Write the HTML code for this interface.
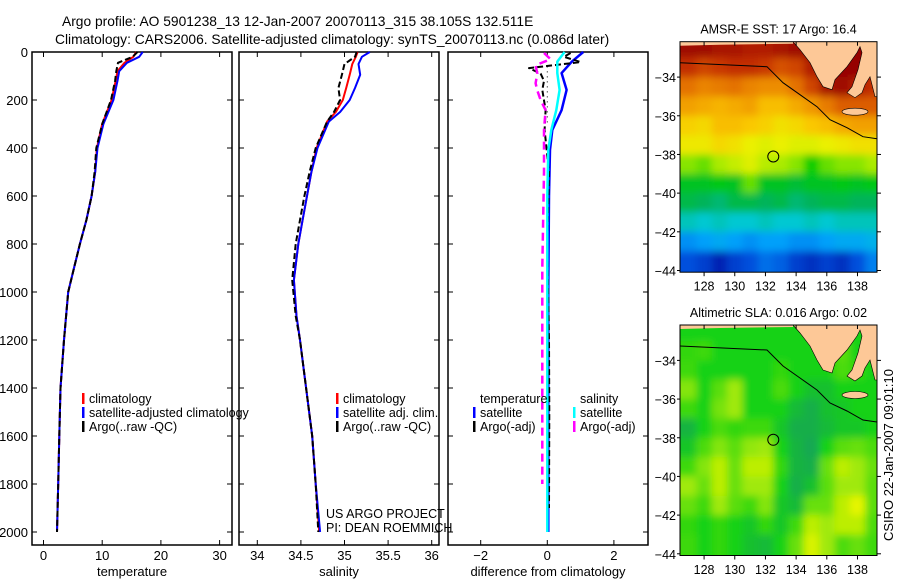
<!DOCTYPE html>
<html><head><meta charset="utf-8"><style>
body{margin:0;background:#fff;}
svg{display:block;font-family:"Liberation Sans",Arial,sans-serif;}
</style></head><body>
<svg id="c" width="900" height="580" viewBox="0 0 900 580">
<defs><filter id="blur" x="-5%" y="-5%" width="110%" height="110%"><feGaussianBlur stdDeviation="4"/></filter></defs>
</svg>
<script>
const tempDepth=[0,20,45,80,120,200,300,400,500,600,700,800,900,1000,1200,1400,1600,1800,2000];
const tempClim=[15.8,15.3,13.8,12.6,12.3,11.6,10.0,9.1,8.8,8.2,7.3,6.2,5.2,4.2,3.5,2.9,2.7,2.5,2.3];
const tempSat=[16.9,16.3,14.2,12.9,12.6,11.9,10.2,9.2,8.8,8.2,7.3,6.2,5.2,4.2,3.5,2.9,2.7,2.5,2.3];
const tempArgo=[16.0,15.2,12.7,12.4,12.2,11.5,10.0,9.0,8.7,8.2,7.3,6.2,5.2,4.2,3.5,2.9,2.7,2.5,2.3];
const salDepth=[0,20,50,95,150,200,250,290,400,500,600,700,800,950,1100,1200,1400,1600,1800,2000];
const salClim=[35.15,35.13,35.09,35.06,35.02,34.98,34.90,34.80,34.68,34.62,34.57,34.52,34.47,34.42,34.45,34.49,34.56,34.63,34.67,34.71];
const salSat=[35.29,35.20,35.16,35.18,35.12,35.06,34.95,34.82,34.69,34.62,34.57,34.52,34.47,34.42,34.45,34.49,34.56,34.63,34.67,34.72];
const salArgo=[35.14,35.12,35.0,34.97,34.93,34.95,34.88,34.80,34.67,34.60,34.54,34.49,34.44,34.40,34.44,34.49,34.56,34.63,34.67,34.70];
const diffSatDepth=[0,40,88,158,242,325,408,600,1000,2000];
const diffSatT=[1.08,0.74,0.43,0.58,0.43,0.15,0.08,0.05,0.03,0.03];
const diffSatS=[0.52,0.3,0.3,0.37,0.27,0.12,0.03,0.0,0.0,0.0];
const diffArgoTDepth=[4,20,42,67,90,120,158,242,325,500,800,1200,1500,1900];
const diffArgoT=[0.7,0.5,1.0,-0.55,-0.2,-0.1,-0.15,-0.05,-0.08,0.05,0.0,0.05,0.06,0.05];
const diffArgoSDepth=[4,30,55,90,130,160,200,242,325,500,900,1200,1800];
const diffArgoS=[-0.1,0.1,-0.35,-0.3,-0.35,-0.3,-0.2,-0.05,-0.1,-0.1,-0.15,-0.15,-0.15];
const depthTicks=[0,200,400,600,800,1000,1200,1400,1600,1800,2000];
const tempTicks=[0,10,20,30];
const salTicks=[34,34.5,35,35.5,36];
const diffTicks=[-2,0,2];
const mapLons=[127,128,129,130,131,132,133,134,135,136,137,138,139];
const mapLats=[-32.5,-33.5,-34.5,-35.5,-36.5,-37.5,-38.5,-39.5,-40.5,-41.5,-42.5,-43.5];
const sstGrid=[
[19.4,19.4,19.3,19.3,19.2,19.2,19.3,19.4,19.5,19.5,19.5,19.5,19.5],
[19.0,18.8,18.9,19.0,19.0,18.9,18.7,18.8,19.2,19.5,19.5,19.5,19.4],
[18.4,18.2,18.3,18.4,18.2,18.1,18.1,18.4,18.8,19.3,19.4,19.2,19.0],
[17.9,17.8,17.7,17.8,17.9,17.6,17.6,17.8,18.0,18.3,18.6,18.6,18.6],
[17.4,17.3,17.6,17.6,17.5,17.4,17.2,17.3,17.5,17.6,17.8,17.9,17.9],
[17.1,17.1,17.3,17.2,17.0,16.9,17.0,16.9,16.9,17.0,17.1,17.2,17.2],
[16.4,16.3,16.5,16.7,16.9,16.6,16.5,16.4,16.0,16.3,16.4,16.4,16.5],
[15.8,15.8,15.9,15.8,16.3,15.8,15.8,15.7,15.8,15.8,15.9,15.8,15.9],
[15.6,15.5,15.4,15.6,15.6,15.5,15.6,15.4,15.5,15.6,15.6,15.5,15.5],
[15.1,15.0,15.1,15.0,15.0,15.1,15.0,15.0,15.1,15.0,15.1,15.1,15.1],
[14.4,14.5,14.6,14.5,14.4,14.5,14.5,14.4,14.4,14.5,14.6,14.6,14.7],
[14.0,13.9,13.7,13.9,14.0,14.2,14.1,13.9,13.8,13.9,13.8,14.0,14.3]];
const slaGrid=[
[0,0,0,0,0,0,0,0,0,0,0,0,0],
[0.02,0.03,0,0,0,0,0,0,0,0,0.05,0,0],
[0.03,0,0,0,0,0,0.02,0,0,0,0.04,0.02,0],
[0.08,0,0.05,0.1,0,0,0.04,0,-0.03,-0.03,0,0,0],
[0.03,0,0.07,0.1,0,0,0,-0.04,-0.06,-0.03,-0.02,0,0],
[-0.05,0,0.04,0.02,0.03,0.03,-0.02,-0.06,-0.06,-0.04,-0.02,-0.02,0],
[-0.02,0.04,0.08,0.05,0.09,0.1,0,-0.05,-0.07,0,0.05,0.06,0.04],
[0.03,0.08,0.12,0.06,0.12,0.12,0.02,-0.05,-0.06,0.06,0.12,0.1,0.06],
[0.1,0.06,0.12,0.06,0.1,0.1,0,-0.06,-0.03,0.05,0.1,0.1,0.05],
[0.06,0.03,0.1,0.05,0.03,0.08,-0.02,-0.04,0.06,0.06,0.12,0.15,0.05],
[0.02,0,0.02,0,-0.02,0.02,-0.02,0.03,0.12,0.1,0.12,0.12,0.04],
[0.03,0,0.02,0,-0.03,-0.04,0,0.06,0.14,0.1,0.04,0.06,0.03]];
const argoLon=132.511, argoLat=-38.105;
const mapLonTicks=[128,130,132,134,136,138];
const mapLatTicks=[-34,-36,-38,-40,-42,-44];

const NS='http://www.w3.org/2000/svg';
const svg=document.getElementById('c');
function el(tag,attrs,parent,text){const e=document.createElementNS(NS,tag);for(const k in attrs)e.setAttribute(k,attrs[k]);if(text!==undefined)e.textContent=text;(parent||svg).appendChild(e);return e;}

const yTop=52, yPx=0.24;
const yD=d=>yTop+d*yPx;
const panels=[
 {name:'temperature',x0:32,x1:232,xOf:v=>43.5+v*5.87,ticks:tempTicks,label:'temperature'},
 {name:'salinity',x0:239,x1:439,xOf:v=>257.3+(v-34)*87.2,ticks:salTicks,label:'salinity'},
 {name:'difference',x0:448,x1:648,xOf:v=>547.3+v*33.3,ticks:diffTicks,label:'difference from climatology'}];
const yBot=545;
panels.forEach((p,i)=>{
 const g=el('g',{});
 
 
 const fr=el('rect',{x:p.x0,y:yTop,width:p.x1-p.x0,height:yBot-yTop,fill:'none',stroke:'#000','stroke-width':1.5},g);
 
 
 depthTicks.forEach(d=>{
  const y=yD(d);
  el('line',{x1:p.x0,x2:p.x0+5,y1:y,y2:y,stroke:'#000'},g);
  el('line',{x1:p.x1,x2:p.x1-5,y1:y,y2:y,stroke:'#000'},g);
  if(i===0){const t=el('text',{x:28,y:y+5,'text-anchor':'end','font-size':13},g,String(d));
   
   }
 });
 p.ticks.forEach(v=>{
  const x=p.xOf(v);
  el('line',{x1:x,x2:x,y1:yTop,y2:yTop+5,stroke:'#000'},g);
  el('line',{x1:x,x2:x,y1:yBot,y2:yBot-5,stroke:'#000'},g);
  const t=el('text',{x:x,y:560,'text-anchor':'middle','font-size':13},g,(p.name==='difference'&&v<0)?('\u2212'+(-v)):String(v));
  
  
 });
 const xl=el('text',{x:(p.x0+p.x1)/2,y:576,'text-anchor':'middle','font-size':13},g,p.label);
 
 
 p.g=g;
});
function line(p,depths,vals,color,dash,name,w){
 const pts=depths.map((d,i)=>p.xOf(vals[i]).toFixed(1)+','+yD(d).toFixed(1)).join(' ');
 const a={points:pts,fill:'none',stroke:color,'stroke-width':w||2,'stroke-linejoin':'round'};
 if(dash)a['stroke-dasharray']=dash;
 const e=el('polyline',a,p.g);
 
 
}
line(panels[0],tempDepth,tempClim,'#f00',null,'temp-climatology-line');
line(panels[0],tempDepth,tempSat,'#00f',null,'temp-satellite-line');
line(panels[0],tempDepth,tempArgo,'#000','6,3','temp-argo-line');
line(panels[1],salDepth,salClim,'#f00',null,'sal-climatology-line');
line(panels[1],salDepth,salSat,'#00f',null,'sal-satellite-line');
line(panels[1],salDepth,salArgo,'#000','6,3','sal-argo-line');
const zl=el('line',{x1:panels[2].xOf(0),x2:panels[2].xOf(0),y1:yD(60),y2:yD(300),stroke:'#000','stroke-dasharray':'1,4'},panels[2].g);


line(panels[2],diffSatDepth,diffSatT,'#00f',null,'diff-temp-satellite-line',2.5);
line(panels[2],diffArgoTDepth,diffArgoT,'#000','6,3','diff-temp-argo-line');
line(panels[2],diffArgoSDepth,diffArgoS,'#f0f','8,5','diff-sal-argo-line',2.5);
line(panels[2],diffSatDepth,diffSatS,'#0ff',null,'diff-sal-satellite-line',2.5);

function legend(items,x,y0,name){
 const g=el('g',{});
 
 
 items.forEach((it,i)=>{
  const y=y0+i*14;
  if(it[0])el('rect',{x:x,y:y-5,width:2.5,height:11,fill:it[0]},g);
  const t=el('text',{x:x+7,y:y+5,'font-size':12.5},g,it[1]);
  
  
 });
}
legend([['#f00','climatology'],['#00f','satellite-adjusted climatology'],['#000','Argo(..raw -QC)']],82,398,'temperature-legend');
legend([['#f00','climatology'],['#00f','satellite adj. clim.'],['#000','Argo(..raw -QC)']],336,398,'salinity-legend');
legend([[null,'temperature'],['#00f','satellite'],['#000','Argo(-adj)']],473,398,'diff-temp-legend');
legend([[null,'salinity'],['#0ff','satellite'],['#f0f','Argo(-adj)']],573,398,'diff-sal-legend');
const pi=el('text',{x:326,y:518,'font-size':12.5},svg,'US ARGO PROJECT');


const pi2=el('text',{x:326,y:532,'font-size':12.5},svg,'PI: DEAN ROEMMICH');



const t1=el('text',{x:62,y:26,'font-size':13.8},svg,'Argo profile: AO 5901238_13 12-Jan-2007 20070113_315 38.105S 132.511E');


const t2=el('text',{x:55,y:44,'font-size':13.8},svg,'Climatology: CARS2006. Satellite-adjusted climatology: synTS_20070113.nc (0.086d later)');



const mx0=680,mx1=877,mw=mx1-mx0,mh=230.5,lon0=126.43,lonPx=15.34,latPx=19.34,lat0=-32.17;
const lonX=l=>(l-lon0)*lonPx;
const latY=l=>(lat0-l)*latPx;
function sstColor(v){
 const st=[[13.5,0,0,150],[14,0,80,220],[14.5,0,160,250],[15,0,200,210],[15.5,0,180,90],[16,0,205,0],[16.5,170,235,0],[17,235,240,0],[17.5,250,200,0],[18,240,150,0],[18.5,225,105,0],[19,195,45,0],[19.5,150,0,0]];
 if(v<=st[0][0])return `rgb(${st[0][1]},${st[0][2]},${st[0][3]})`;
 for(let i=1;i<st.length;i++){if(v<=st[i][0]){const a=st[i-1],b=st[i],t=(v-a[0])/(b[0]-a[0]);return `rgb(${Math.round(a[1]+t*(b[1]-a[1]))},${Math.round(a[2]+t*(b[2]-a[2]))},${Math.round(a[3]+t*(b[3]-a[3]))})`;}}
 const l=st[st.length-1];return `rgb(${l[1]},${l[2]},${l[3]})`;
}
function slaColor(v){
 const st=[[-0.1,20,150,110],[0,20,210,20],[0.15,230,245,0]];
 v=Math.max(-0.1,Math.min(0.15,v));
 const [a,b]=v<=0?[st[0],st[1]]:[st[1],st[2]];const t=(v-a[0])/(b[0]-a[0]);
 return `rgb(${Math.round(a[1]+t*(b[1]-a[1]))},${Math.round(a[2]+t*(b[2]-a[2]))},${Math.round(a[3]+t*(b[3]-a[3]))})`;
}
const landPts=[[113,0],[120,8],[130,21],[137,35],[143,45],[152,48],[155,38],[167,25],[177,11],[180,5],[182,11],[178,28],[172,45],[167,51],[175,56],[182,51],[185,43],[190,35],[195,55],[197,55],[197,0]];
const shelfPts=[[0,21],[87,25],[103,41],[120,53],[137,65],[150,78],[167,86],[183,95],[197,97]];
function drawMap(y0,grid,colorFn,title,name){
 const g=el('g',{transform:`translate(${mx0},${y0})`});
 
 
 const cp=el('clipPath',{id:'clip'+name},g);
 el('rect',{x:0,y:0,width:mw,height:mh},cp);
 const cg=el('g',{'clip-path':`url(#clip${name})`},g);
 const hg=el('g',{filter:'url(#blur)'},cg);
 const nr=grid.length;
 grid.forEach((row,r)=>row.forEach((v,c)=>{
  let x=lonX(mapLons[c]-0.5),y=latY(mapLats[r]+0.5),w=lonPx+0.6,h=latPx+0.6;
  if(c===0){x-=15;w+=15;} if(c===row.length-1){w+=15;}
  if(r===0){y-=15;h+=15;} if(r===nr-1){h+=15;}
  const cell=el('rect',{x:x.toFixed(1),y:y.toFixed(1),width:w.toFixed(1),height:h.toFixed(1),fill:colorFn(v)},hg);
  
  
 }));
 const land=el('polygon',{points:landPts.map(p=>p.join(',')).join(' '),fill:'#fdc897',stroke:'#000','stroke-width':0.6},cg);
 
 
 el('polygon',{points:'0,0 113,0 113,2 40,3 0,4',fill:'#fdc897'},cg);
 const ki=el('ellipse',{cx:175,cy:70,rx:13,ry:3.5,fill:'#fdc897',stroke:'#000','stroke-width':0.6},cg);
 
 
 const sh=el('polyline',{points:shelfPts.map(p=>p.join(',')).join(' '),fill:'none',stroke:'#000','stroke-width':1},cg);
 
 
 const mk=el('circle',{cx:lonX(argoLon),cy:latY(argoLat),r:5.5,fill:'none',stroke:'#000','stroke-width':1},g);
 
 
 el('rect',{x:0,y:0,width:mw,height:mh,fill:'none',stroke:'#000','stroke-width':1},g);
 mapLonTicks.forEach(l=>{const x=lonX(l);
  el('line',{x1:x,x2:x,y1:0,y2:4,stroke:'#000'},g);
  el('line',{x1:x,x2:x,y1:mh,y2:mh+4,stroke:'#000'},g);
  const t=el('text',{x:x,y:249,'text-anchor':'middle','font-size':12.5},g,String(l));
  
  });
 mapLatTicks.forEach(l=>{const y=latY(l);
  el('line',{x1:mw,x2:mw+4,y1:y,y2:y,stroke:'#000'},g);
  el('line',{x1:0,x2:-3,y1:y,y2:y,stroke:'#000'},g);
  const t=el('text',{x:-4,y:y+5,'text-anchor':'end','font-size':12.5},g,'\u2212'+(-l));
  
  });
 const tt=el('text',{x:mw/2,y:-8,'text-anchor':'middle','font-size':12.5},g,title);
 
 
}
drawMap(41.7,sstGrid,sstColor,'AMSR-E SST: 17 Argo: 16.4','sst-map');
drawMap(325,slaGrid,slaColor,'Altimetric SLA: 0.016 Argo: 0.02','sla-map');
const cs=el('text',{x:0,y:0,'font-size':13,transform:'translate(893,455) rotate(-90)','text-anchor':'middle'},svg,'CSIRO 22-Jan-2007 09:01:10');


</script>
</body></html>
